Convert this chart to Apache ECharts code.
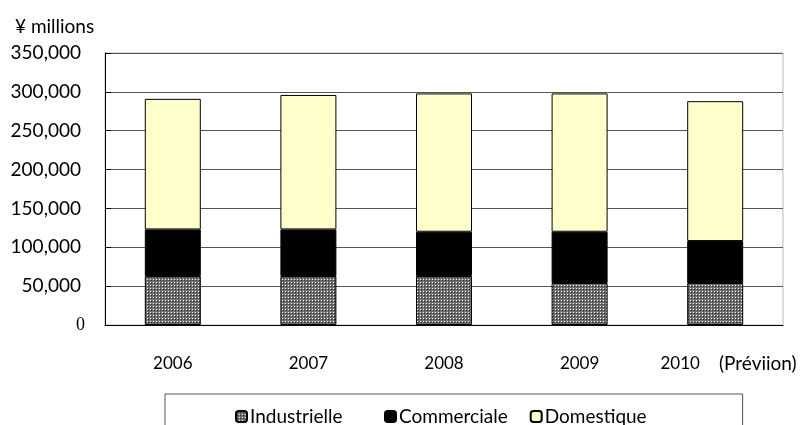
<!DOCTYPE html>
<html>
<head>
<meta charset="utf-8">
<script src="https://cdn.jsdelivr.net/npm/echarts@6/dist/echarts.min.js"></script>
<style>
  html, body { margin: 0; padding: 0; background: #fff; }
  #chart { width: 803px; height: 425px; }
</style>
</head>
<body>
<div id="chart"></div>
<script>
const categories = ["2006", "2007", "2008", "2009", "2010"];
const industrielle = [63000, 63000, 63000, 54000, 54000];
const commerciale = [60000, 60000, 57000, 66000, 54000];
const domestique = [168000, 173000, 178000, 178000, 180000];
const yTicks = [0, 50000, 100000, 150000, 200000, 250000, 300000, 350000];

const FONT = "Lato";

// grey dotted fill like the spreadsheet pattern
function dotPattern() {
  const c = document.createElement("canvas");
  c.width = 3;
  c.height = 3;
  const ctx = c.getContext("2d");
  ctx.fillStyle = "#6e6e6e";
  ctx.fillRect(0, 0, 3, 3);
  ctx.fillStyle = "#ffffff";
  ctx.fillRect(0, 0, 1, 1);
  ctx.fillStyle = "#2a2a2a";
  ctx.fillRect(1, 1, 1, 1);
  return c;
}

const chart = echarts.init(document.getElementById("chart"));

const options = {
  animation: false,
  title: {
    text: "¥ millions",
    left: 10,
    top: 12,
    textStyle: { fontFamily: FONT, fontSize: 19, fontWeight: 400, color: "#000" },
  },
  grid: {
    left: 105,
    right: 20,
    top: 53,
    bottom: 100,
    show: true,
    borderColor: "#bbb",
    borderWidth: 1,
  },
  legend: {
    left: 165,
    top: 394,
    itemWidth: 11,
    itemHeight: 11,
    itemGap: 22,
    padding: [13, 96, 20, 70],
    borderColor: "#555",
    borderWidth: 1,
    data: ["Industrielle", "Commerciale", "Domestique"],
    formatter: (name) => (name === "Industrielle" ? name + "    " : name),
    textStyle: { fontFamily: FONT, fontSize: 19, color: "#000", padding: [0, 0, 0, -2] },
  },
  xAxis: {
    type: "category",
    data: categories,
    axisLine: { lineStyle: { color: "#000", width: 1 } },
    axisTick: { inside: true, length: 7, lineStyle: { color: "#000" } },
    axisLabel: {
      margin: 30,
      fontFamily: FONT,
      fontSize: 17,
      color: "#000",
      formatter: (v) => (v === "2010" ? "{s|2010}" : v),
      rich: {
        s: { fontFamily: FONT, fontSize: 17, color: "#000", padding: [0, 70, 0, 0] },
      },
    },
  },
  yAxis: {
    type: "value",
    min: yTicks[0],
    max: yTicks[yTicks.length - 1],
    interval: 50000,
    axisLine: { show: true, lineStyle: { color: "#000", width: 1 } },
    axisTick: { show: true, inside: true, length: 6, lineStyle: { color: "#000" } },
    splitLine: { lineStyle: { color: "#555", width: 1 } },
    axisLabel: {
      margin: 24,
      fontFamily: FONT,
      fontSize: 19,
      color: "#000",
      formatter: (v) => (v === 0 ? "{z|0}" : v.toLocaleString("en-US")),
      rich: {
        z: { fontFamily: "Liberation Serif", fontSize: 18, color: "#000", padding: [0, -4, 0, 0] },
      },
    },
  },
  graphic: [
    {
      type: "text",
      left: 719,
      top: 354,
      style: { text: "(Préviion)", fontFamily: FONT, fontSize: 19, fill: "#000" },
    },
  ],
  series: [
    {
      name: "Industrielle",
      type: "bar",
      stack: "total",
      barWidth: 56,
      data: industrielle,
      itemStyle: { color: { image: dotPattern(), repeat: "repeat" }, borderColor: "#000", borderWidth: 1 },
    },
    {
      name: "Commerciale",
      type: "bar",
      stack: "total",
      barWidth: 56,
      data: commerciale,
      itemStyle: { color: "#000", borderColor: "#000", borderWidth: 1 },
    },
    {
      name: "Domestique",
      type: "bar",
      stack: "total",
      barWidth: 56,
      data: domestique,
      itemStyle: { color: "#ffffcc", borderColor: "#000", borderWidth: 1 },
    },
  ],
};

chart.setOption(options);
</script>
</body>
</html>
